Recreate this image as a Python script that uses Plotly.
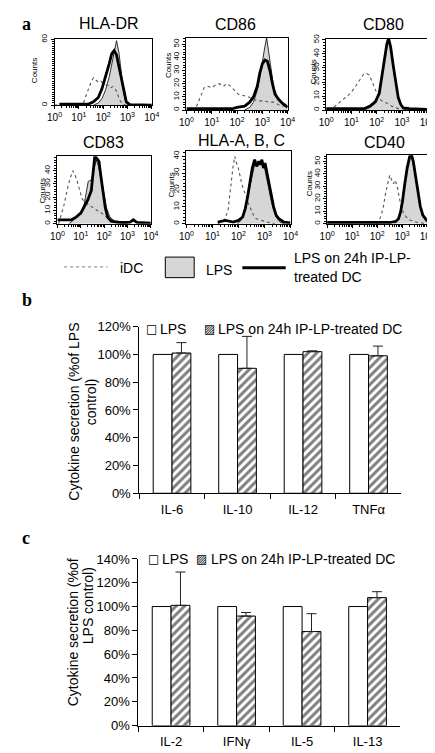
import plotly.graph_objects as go

W, H = 435, 753

# ---------------- Panel a: flow cytometry histograms (log10 intensity, counts) ----------------
HLA_DR_IDC_LOGX = [0.0, 1.1, 1.2, 1.3, 1.4, 1.5, 1.6, 1.7, 1.8, 1.9, 2.0, 2.1, 2.2, 2.3, 2.4, 2.5, 2.6, 2.7, 2.8, 2.9, 4.0]
HLA_DR_IDC_COUNTS = [0, 0, 3, 9, 15, 21, 25, 23, 21, 22, 20, 19, 18, 16, 17, 15, 10, 4, 1, 0, 0]
HLA_DR_LPS_LOGX = [1.6, 1.8, 1.95, 2.1, 2.25, 2.35, 2.45, 2.55, 2.65, 2.75, 2.85, 2.95, 3.05]
HLA_DR_LPS_COUNTS = [0, 2, 6, 14, 26, 38, 50, 59, 48, 28, 10, 2, 0]
HLA_DR_TRT_LOGX = [0.2, 0.8, 1.4, 1.6, 1.8, 1.95, 2.1, 2.25, 2.35, 2.45, 2.55, 2.7, 2.85, 2.95, 3.1, 4.0]
HLA_DR_TRT_COUNTS = [1, 1, 1, 3, 7, 15, 26, 38, 47, 50, 46, 30, 12, 3, 0.5, 0]

CD86_IDC_LOGX = [0.2, 0.4, 0.55, 0.7, 0.85, 1.0, 1.15, 1.3, 1.45, 1.6, 1.75, 1.9, 2.05, 2.25, 2.45, 2.65, 2.85, 3.05, 3.25, 3.45, 3.65, 3.85, 4.0]
CD86_IDC_COUNTS = [0, 3, 10, 17, 18, 17, 19, 20, 18, 20, 18, 15, 12, 11, 10, 8, 7, 7, 6, 6, 4, 3, 2]
CD86_LPS_LOGX = [2.3, 2.5, 2.65, 2.8, 2.9, 3.0, 3.1, 3.17, 3.25, 3.35, 3.45, 3.6, 3.75, 3.9, 4.0]
CD86_LPS_COUNTS = [0, 2, 6, 15, 25, 38, 48, 55, 45, 30, 17, 10, 6, 4, 3]
CD86_TRT_LOGX = [0.0, 0.6, 1.2, 1.8, 2.0, 2.3, 2.5, 2.65, 2.8, 2.9, 3.0, 3.1, 3.2, 3.3, 3.4, 3.5, 3.65, 3.8, 3.95, 4.0]
CD86_TRT_COUNTS = [1, 1, 1, 1, 2, 3, 6, 10, 18, 28, 35, 38, 37, 30, 20, 12, 8, 5, 3, 2]

CD80_IDC_LOGX = [0.1, 0.3, 0.5, 0.7, 0.9, 1.05, 1.2, 1.35, 1.5, 1.6, 1.7, 1.8, 1.9, 2.0, 2.1, 2.25, 2.4, 2.55, 2.7, 2.85, 3.0]
CD80_IDC_COUNTS = [0, 2, 5, 8, 11, 14, 18, 22, 26, 26, 25, 21, 17, 12, 8, 6, 5, 3, 2, 1, 0]
CD80_LPS_LOGX = [1.5, 1.75, 1.95, 2.1, 2.2, 2.3, 2.4, 2.47, 2.55, 2.65, 2.75, 2.85, 2.95, 3.05, 3.2]
CD80_LPS_COUNTS = [0, 2, 5, 12, 24, 36, 46, 50, 44, 33, 20, 10, 4, 1, 0]
CD80_TRT_LOGX = [0.0, 1.0, 1.5, 1.75, 1.95, 2.1, 2.2, 2.3, 2.4, 2.47, 2.55, 2.65, 2.75, 2.85, 2.95, 3.05, 3.3, 4.0]
CD80_TRT_COUNTS = [1, 1, 1, 3, 6, 12, 24, 37, 47, 51, 45, 32, 19, 9, 4, 1.5, 1, 0.5]

CD83_IDC_LOGX = [0.05, 0.15, 0.28, 0.4, 0.52, 0.66, 0.75, 0.85, 0.95, 1.05, 1.2, 1.35, 1.5, 1.7, 1.9, 2.1, 2.35, 2.6, 2.8, 3.0]
CD83_IDC_COUNTS = [0, 6, 14, 24, 33, 40, 37, 32, 25, 19, 16, 14, 12, 10, 8, 5, 3, 2, 1, 0]
CD83_LPS_LOGX = [0.5, 0.7, 0.9, 1.1, 1.2, 1.32, 1.45, 1.55, 1.66, 1.75, 1.85, 2.0, 2.1, 2.25, 2.45, 2.7, 3.0]
CD83_LPS_COUNTS = [0, 3, 7, 10, 20, 32, 33, 40, 48, 44, 36, 22, 12, 5, 2, 0.5, 0]
CD83_TRT_LOGX = [0.0, 0.3, 0.6, 0.8, 1.0, 1.15, 1.3, 1.45, 1.53, 1.6, 1.7, 1.78, 1.86, 1.95, 2.05, 2.15, 2.3, 2.6, 3.1, 3.25, 3.4, 4.0]
CD83_TRT_COUNTS = [3, 3, 3, 5, 8, 13, 18, 25, 40, 51, 49, 47, 36, 24, 12, 5, 2, 1, 1, 3, 1, 0.5]

HLA_ABC_IDC_LOGX = [1.2, 1.35, 1.48, 1.6, 1.67, 1.73, 1.8, 1.86, 1.92, 1.98, 2.05, 2.12, 2.2, 2.28, 2.38, 2.48, 2.58, 2.68, 2.85, 3.1, 3.4]
HLA_ABC_IDC_COUNTS = [0, 1, 3, 8, 18, 27, 35, 40, 36, 34, 28, 24, 20, 17, 12, 8, 5, 3, 2, 1, 0]
HLA_ABC_LPS_LOGX = [1.95, 2.1, 2.22, 2.32, 2.42, 2.52, 2.62, 2.75, 2.85, 2.96, 3.05, 3.15, 3.25, 3.35, 3.45, 3.6, 3.75]
HLA_ABC_LPS_COUNTS = [0, 2, 7, 14, 22, 30, 35, 37, 36, 36, 30, 22, 14, 8, 4, 1, 0]
HLA_ABC_TRT_LOGX = [1.2, 1.5, 1.8, 2.0, 2.16, 2.26, 2.35, 2.45, 2.53, 2.62, 2.7, 2.78, 2.84, 2.9, 2.96, 3.02, 3.1, 3.18, 3.26, 3.35, 3.45, 3.55, 3.75, 4.0]
HLA_ABC_TRT_COUNTS = [1, 2, 1, 2, 4, 9, 16, 25, 33, 38, 34, 37, 35, 38, 33, 36, 30, 24, 17, 10, 5, 3, 1, 0.5]

CD40_IDC_LOGX = [1.95, 2.05, 2.15, 2.25, 2.33, 2.42, 2.5, 2.58, 2.65, 2.72, 2.8, 2.88, 2.96, 3.06, 3.18, 3.3, 3.45, 3.6, 3.8, 4.0]
CD40_IDC_COUNTS = [0, 2, 6, 14, 24, 32, 39, 35, 32, 35, 30, 21, 14, 8, 5, 3, 2, 1, 0.5, 0]
CD40_LPS_LOGX = [2.7, 2.82, 2.92, 3.01, 3.1, 3.2, 3.3, 3.36, 3.44, 3.53, 3.62, 3.72, 3.82, 3.92, 4.0]
CD40_LPS_COUNTS = [0, 3, 8, 18, 32, 45, 53, 55, 48, 36, 24, 13, 7, 4, 2]
CD40_TRT_LOGX = [0.0, 1.0, 2.0, 2.5, 2.75, 2.85, 2.93, 3.01, 3.1, 3.2, 3.3, 3.36, 3.44, 3.53, 3.62, 3.72, 3.82, 3.92, 4.0]
CD40_TRT_COUNTS = [1, 1, 1, 1, 2, 4, 9, 18, 32, 45, 54, 56, 50, 38, 25, 14, 7, 4, 2]

MARKER_NAMES = ["HLA-DR", "CD86", "CD80", "CD83", "HLA-A, B, C", "CD40"]
Y_MAX = [61, 55, 51, 51, 43, 55]
Y_TICKS = [[0, 60], [0, 10, 20, 30, 40, 50], [0, 10, 20, 30, 40, 50],
           [0, 10, 20, 30, 40], [0, 10, 20, 30, 40], [0, 10, 20, 30, 40, 50]]
X_TICK_VALUES = [1, 10, 100, 1000, 10000]
X_TICK_TEXT = ["10<sup>0</sup>", "10<sup>1</sup>", "10<sup>2</sup>", "10<sup>3</sup>", "10<sup>4</sup>"]

# ---------------- Panels b, c: cytokine bars ----------------
B_CATEGORIES = ["IL-6", "IL-10", "IL-12", "TNFα"]
B_LPS = [100, 100, 100, 100]
B_TREATED = [101, 90, 102, 99]
B_TREATED_ERR = [7.5, 23, 0.6, 7]

C_CATEGORIES = ["IL-2", "IFNγ", "IL-5", "IL-13"]
C_LPS = [100, 100, 100, 100]
C_TREATED = [101, 92, 79, 107.5]
C_TREATED_ERR = [28, 3, 15, 5]

SERIES_LPS = "LPS"
SERIES_TRT = "LPS on 24h IP-LP-treated DC"

FONT = "Liberation Sans, Arial, sans-serif"
SERIF = "Liberation Serif, Times New Roman, serif"


def xd(a, b):
    return [a / W, b / W]


def yd(top, bottom):
    return [1 - bottom / H, 1 - top / H]


def px(x):
    return x / W


def py(y):
    return 1 - y / H


hist_data = [
    (HLA_DR_IDC_LOGX, HLA_DR_IDC_COUNTS, HLA_DR_LPS_LOGX, HLA_DR_LPS_COUNTS, HLA_DR_TRT_LOGX, HLA_DR_TRT_COUNTS),
    (CD86_IDC_LOGX, CD86_IDC_COUNTS, CD86_LPS_LOGX, CD86_LPS_COUNTS, CD86_TRT_LOGX, CD86_TRT_COUNTS),
    (CD80_IDC_LOGX, CD80_IDC_COUNTS, CD80_LPS_LOGX, CD80_LPS_COUNTS, CD80_TRT_LOGX, CD80_TRT_COUNTS),
    (CD83_IDC_LOGX, CD83_IDC_COUNTS, CD83_LPS_LOGX, CD83_LPS_COUNTS, CD83_TRT_LOGX, CD83_TRT_COUNTS),
    (HLA_ABC_IDC_LOGX, HLA_ABC_IDC_COUNTS, HLA_ABC_LPS_LOGX, HLA_ABC_LPS_COUNTS, HLA_ABC_TRT_LOGX, HLA_ABC_TRT_COUNTS),
    (CD40_IDC_LOGX, CD40_IDC_COUNTS, CD40_LPS_LOGX, CD40_LPS_COUNTS, CD40_TRT_LOGX, CD40_TRT_COUNTS),
]

# pixel boxes (left, right, top, bottom) of each histogram
hist_boxes = [(40, 141, 24, 92), (177, 282, 23, 97), (322, 427, 24, 97),
              (43, 140, 144, 213), (177, 285, 139, 213), (323, 427, 143, 213)]
title_pos = [(97, 9), (228, 10), (382, 10), (91, 130), (234, 128), (383, 130)]
counts_pos = [(20, 57), (159, 52), (309, 58), (27, 180), (161, 174), (305, 172)]

fig = go.Figure()
layout = dict(width=W, height=H, margin=dict(l=0, r=0, t=0, b=0),
              paper_bgcolor="white", plot_bgcolor="white", showlegend=False,
              font=dict(family=FONT, color="black", size=12),
              barmode="group", bargap=0.425, bargroupgap=0)
annotations = []
shapes = []

for i, (data, box) in enumerate(zip(hist_data, hist_boxes)):
    n = i + 1
    xa, ya = f"x{n}", f"y{n}"
    ix, ic, lx, lc, tx, tc = data
    fig.add_trace(go.Scatter(x=[10 ** v for v in lx], y=lc, xaxis=xa, yaxis=ya, mode="lines",
                             fill="tozeroy", fillcolor="#d6d6d6",
                             line=dict(color="black", width=0.8), hoverinfo="skip"))
    fig.add_trace(go.Scatter(x=[10 ** v for v in ix], y=ic, xaxis=xa, yaxis=ya, mode="lines",
                             line=dict(color="#555555", width=1.1, dash="dot"), hoverinfo="skip"))
    fig.add_trace(go.Scatter(x=[10 ** v for v in tx], y=tc, xaxis=xa, yaxis=ya, mode="lines",
                             line=dict(color="black", width=2.8), hoverinfo="skip"))
    l, r, t, b = box
    layout[f"xaxis{n}"] = dict(domain=xd(l, r), anchor=ya, type="log", range=[0, 4],
                               tickvals=X_TICK_VALUES, ticktext=X_TICK_TEXT,
                               showline=True, mirror=True, linecolor="black", linewidth=1,
                               ticks="outside", ticklen=3, tickcolor="black",
                               minor=dict(ticks="outside", ticklen=2, dtick="D1", tickcolor="black"),
                               showgrid=False, zeroline=False, tickfont=dict(size=10, family=FONT))
    layout[f"yaxis{n}"] = dict(domain=yd(t, b), anchor=xa, range=[0, Y_MAX[i]],
                               tickvals=Y_TICKS[i], tickangle=-90,
                               showline=True, mirror=True, linecolor="black", linewidth=1,
                               ticks="outside", ticklen=3, tickcolor="black",
                               minor=dict(ticks="outside", ticklen=2, dtick=2, tickcolor="black"),
                               showgrid=False, zeroline=False, tickfont=dict(size=8, family=FONT))
    tx_, ty_ = title_pos[i]
    annotations.append(dict(x=px(tx_), y=py(ty_), xref="paper", yref="paper", text=MARKER_NAMES[i],
                            showarrow=False, xanchor="center", yanchor="middle",
                            font=dict(size=16, family=FONT)))
    cx, cy = counts_pos[i]
    annotations.append(dict(x=px(cx), y=py(cy), xref="paper", yref="paper", text="Counts",
                            showarrow=False, xanchor="center", yanchor="middle", textangle=-90,
                            font=dict(size=8, family=FONT)))

# legend of panel a
shapes.append(dict(type="line", xref="paper", yref="paper", x0=px(50), x1=px(95), y0=py(257), y1=py(257),
                   line=dict(color="#777777", width=1, dash="dot")))
shapes.append(dict(type="rect", xref="paper", yref="paper", x0=px(155), x1=px(185), y0=py(268), y1=py(247),
                   fillcolor="#d6d6d6", line=dict(color="black", width=1)))
shapes.append(dict(type="line", xref="paper", yref="paper", x0=px(235), x1=px(280), y0=py(258), y1=py(258),
                   line=dict(color="black", width=3)))
for txt, x_, y_ in [("iDC", 106, 258), ("LPS", 195, 260), ("LPS on 24h IP-LP-", 287, 248), ("treated DC", 287, 267)]:
    annotations.append(dict(x=px(x_), y=py(y_), xref="paper", yref="paper", text=txt, showarrow=False,
                            xanchor="left", yanchor="middle", font=dict(size=14, family=FONT)))

# panel letters
for txt, x_, y_ in [("a", 4, 9), ("b", 4, 291), ("c", 4, 534)]:
    annotations.append(dict(x=px(x_), y=py(y_), xref="paper", yref="paper", text=f"<b>{txt}</b>",
                            showarrow=False, xanchor="left", yanchor="middle",
                            font=dict(size=18, family=SERIF)))

# bar panels
bar_panels = [
    (7, B_CATEGORIES, B_LPS, B_TREATED, B_TREATED_ERR, (128, 400, 318, 488), 120),
    (8, C_CATEGORIES, C_LPS, C_TREATED, C_TREATED_ERR, (127, 399, 555, 725), 140),
]
for n, cats, lps, trt, err, box, ymax in bar_panels:
    xa, ya = f"x{n}", f"y{n}"
    fig.add_trace(go.Bar(x=cats, y=lps, name=SERIES_LPS, xaxis=xa, yaxis=ya, offsetgroup="1",
                         marker=dict(color="white", line=dict(color="black", width=1))))
    fig.add_trace(go.Bar(x=cats, y=trt, name=SERIES_TRT, xaxis=xa, yaxis=ya, offsetgroup="2",
                         marker=dict(color="white", line=dict(color="black", width=1),
                                     pattern=dict(shape="/", fgcolor="black", bgcolor="white",
                                                  size=6, solidity=0.5)),
                         error_y=dict(type="data", array=err, arrayminus=[0] * len(err), symmetric=False,
                                      color="#222222", thickness=1, width=5)))
    l, r, t, b = box
    layout[f"xaxis{n}"] = dict(domain=xd(l, r), anchor=ya, type="category",
                               showline=True, linecolor="black", linewidth=1,
                               ticks="outside", ticklen=5, tickcolor="black", tickson="boundaries",
                               showgrid=False, zeroline=False, tickfont=dict(size=13, family=FONT),
                               ticklabelstandoff=4)
    layout[f"yaxis{n}"] = dict(domain=yd(t, b), anchor=xa, range=[0, ymax], dtick=20, ticksuffix="%",
                               showline=True, linecolor="black", linewidth=1,
                               ticks="outside", ticklen=5, tickcolor="black",
                               showgrid=False, zeroline=False, tickfont=dict(size=13, family=FONT))

# bar legends
for x_sq, x_txt2, x_sq2, x_t2, y_ in [(141, 147, 201, 208, 320), (143, 149, 193, 200, 555)]:
    annotations.append(dict(x=px(x_sq), y=py(y_), xref="paper", yref="paper", text="□", showarrow=False,
                            xanchor="center", yanchor="middle", font=dict(size=12, family="DejaVu Sans")))
    annotations.append(dict(x=px(x_txt2), y=py(y_), xref="paper", yref="paper", text=SERIES_LPS,
                            showarrow=False, xanchor="left", yanchor="middle", font=dict(size=14, family=FONT)))
    annotations.append(dict(x=px(x_sq2), y=py(y_), xref="paper", yref="paper", text="▨", showarrow=False,
                            xanchor="center", yanchor="middle", font=dict(size=12, family="DejaVu Sans")))
    annotations.append(dict(x=px(x_t2), y=py(y_), xref="paper", yref="paper", text=SERIES_TRT,
                            showarrow=False, xanchor="left", yanchor="middle", font=dict(size=14, family=FONT)))

# bar y titles
for txt, x_, y_ in [("Cytokine secretion (%of LPS", 60, 405), ("control)", 78, 395),
                    ("Cytokine secretion (%of", 60, 630), ("LPS control)", 75, 603)]:
    annotations.append(dict(x=px(x_), y=py(y_), xref="paper", yref="paper", text=txt, showarrow=False,
                            xanchor="center", yanchor="middle", textangle=-90,
                            font=dict(size=14, family=FONT)))

layout["annotations"] = annotations
layout["shapes"] = shapes
fig.update_layout(**layout)
fig.write_html("out.html")
